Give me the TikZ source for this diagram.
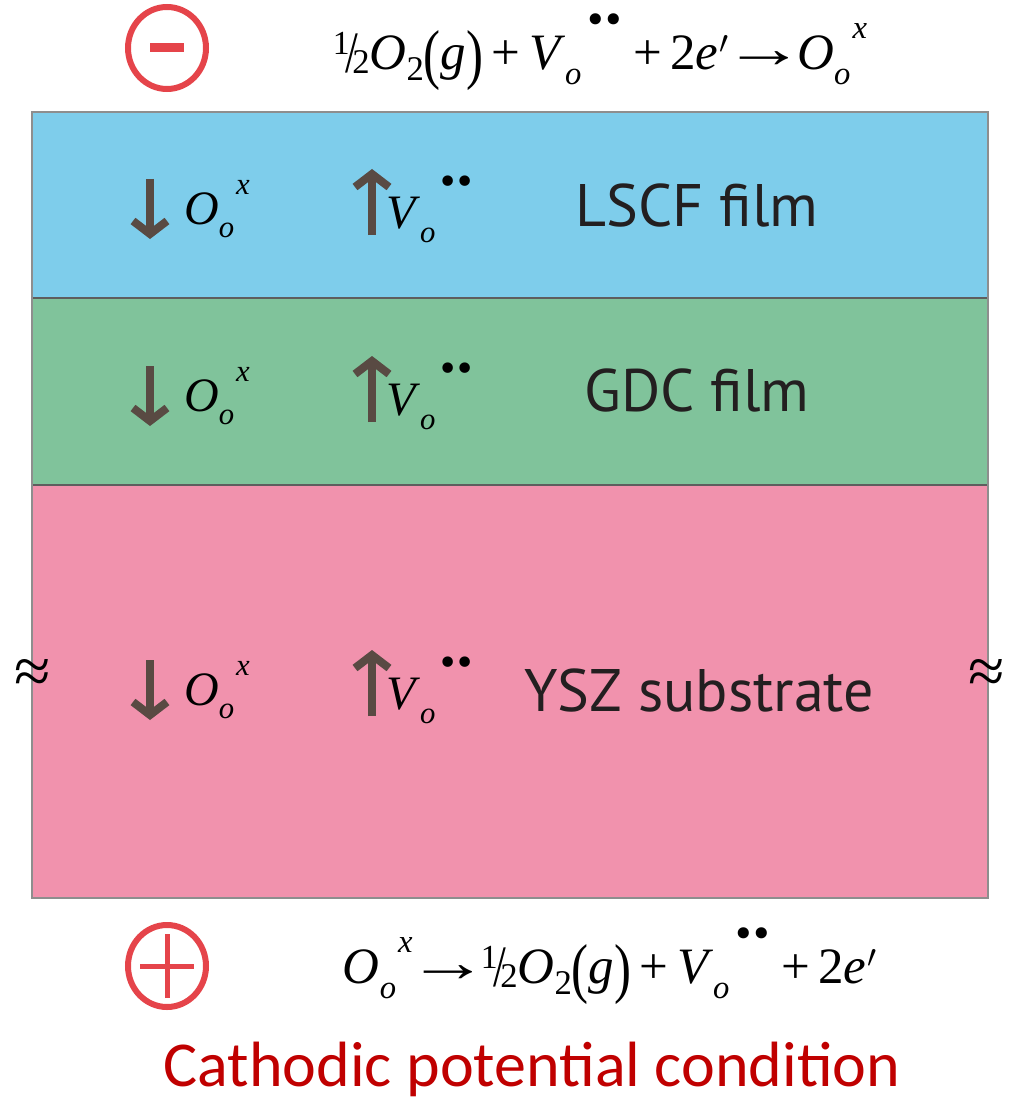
\documentclass[tikz,border=0pt]{standalone}
\usepackage{fontspec}
\usepackage{graphicx}
\setmainfont{Liberation Serif}
\newfontfamily\labfont{PT Sans}
\newfontfamily\capfont{Carlito}
\newfontfamily\dotfont{DejaVu Sans}
\usetikzlibrary{arrows.meta,shapes.geometric}
\definecolor{lscf}{HTML}{7ECDEB}
\definecolor{gdc}{HTML}{80C39B}
\definecolor{ysz}{HTML}{F192AD}
\definecolor{frame}{HTML}{8E8E8E}
\definecolor{divider}{HTML}{5E5E5E}
\definecolor{arrowc}{HTML}{594A43}
\definecolor{signred}{HTML}{E5444A}
\definecolor{capred}{HTML}{C00000}
\definecolor{txt}{HTML}{231F20}
% chemistry pieces (text mode, Times-like), sizes relative to current font
\newcommand\chsub[1]{\raisebox{-0.28em}{\scalebox{0.64}{\itshape #1}}}
\newcommand\chsubup[1]{\raisebox{-0.2em}{\scalebox{0.68}{#1}}}
\newcommand\chsup[1]{\raisebox{0.62em}{\scalebox{0.64}{\itshape #1}}}
\newcommand\Oox{\textit{O}\chsub{o}\kern0.04em\chsup{x}}
\newcommand\Vodd{\textit{V}\chsub{o}\kern0.05em\raisebox{0.72em}{\scalebox{0.75}{\dotfont •\kern-0.12em•}}}
\newcommand\bigp[1]{\raisebox{-0.13em}{\scalebox{1}[1.3]{#1}}}
\newcommand\half{\raisebox{0.3em}{\scalebox{0.66}{1}}\kern-0.08em\raisebox{-0.05em}{\scalebox{0.9}[1.15]{/}}\kern-0.12em\raisebox{-0.08em}{\scalebox{0.68}{2}}}
\newcommand\halfOtwo{\half\textit{O}\chsubup{2}\bigp{(}\textit{g}\bigp{)}}
\newcommand\twoe{2\textit{e}\kern0.02em\raisebox{0.1em}{\scalebox{1.3}{$'$}}}
\newcommand\yields{\kern-0.1em\raisebox{0.04em}{\scalebox{1.6}[1.1]{→}}\kern-0.16em}
\begin{document}
\begin{tikzpicture}[x=1pt,y=-1pt,
  layer/.style={anchor=north west,inner sep=0pt,outer sep=0pt,minimum width=956pt},
  eq/.style={font=\fontsize{51}{56}\selectfont,inner sep=0pt,text=black},
  species/.style={font=\fontsize{48}{52}\selectfont,inner sep=0pt,anchor=west,text=black},
  lab/.style={font=\labfont\fontsize{60}{64}\selectfont,text=txt,inner sep=0pt},
  ionarrow/.style={draw=arrowc,line width=8pt,-{Straight Barb[length=13pt,width=34pt,line width=8pt]}},
  sign/.style={draw=signred,line width=6pt,ellipse,minimum width=78pt,minimum height=82pt,inner sep=0pt},
  approx/.style={font=\fontsize{66}{66}\selectfont,inner sep=0pt,text=black}
]
\useasboundingbox (0,0) rectangle (1013,1102);
% layers
\node[layer,fill=lscf,minimum height=186pt] (lscfL) at (32,112) {};
\node[layer,fill=gdc,minimum height=187pt] (gdcL) at (32,298) {};
\node[layer,fill=ysz,minimum height=413pt] (yszL) at (32,485) {};
\draw[divider,line width=2pt] (lscfL.south west) -- (lscfL.south east);
\draw[divider,line width=2pt] (gdcL.south west) -- (gdcL.south east);
\draw[frame,line width=2pt] (lscfL.north west) rectangle (yszL.south east);
% layer labels
\node[lab] (tl) at (697,205) {LSCF film};
\node[lab] (tg) at (697,390) {GDC film};
\node[lab] (ty) at (699,690) {YSZ substrate};
% species and arrows
\foreach \n/\y in {a/205,b/392,c/686}{
  \coordinate (d\n s) at (150,\y-26);
  \coordinate (d\n e) at (150,\y+34);
  \coordinate (u\n s) at (372,\y+30);
  \coordinate (u\n e) at (372,\y-36);
  \draw[ionarrow] (d\n s) -- (d\n e);
  \draw[ionarrow] (u\n s) -- (u\n e);
  \node[species] (o\n) at (184,\y+4) {\Oox};
  \node[species] (v\n) at (386,\y+4) {\Vodd};
}
% signs
\node[sign] (minus) at (167,48) {};
\draw[signred,line width=9pt] ([xshift=-17pt]minus.center) -- ([xshift=17pt]minus.center);
\node[sign] (plus) at (167,966) {};
\draw[signred,line width=5pt] ([xshift=-27pt]plus.center) -- ([xshift=27pt]plus.center);
\draw[signred,line width=5pt] ([yshift=-32pt]plus.center) -- ([yshift=32pt]plus.center);
% equations
\node[eq] (eqtop) at (600,52) {\halfOtwo\,+\,\Vodd\,+\,\twoe\yields\Oox};
\node[eq] (eqbot) at (610,966) {\Oox\yields\halfOtwo\,+\,\Vodd\,+\,\twoe};
% break marks
\node[approx] (bl) at (33,676) {≈};
\node[approx] (br) at (987,676) {≈};
% caption
\node[font=\capfont\fontsize{64}{70}\selectfont,text=capred,inner sep=0pt] (cap) at (532,1069) {Cathodic potential condition};
\end{tikzpicture}
\end{document}
